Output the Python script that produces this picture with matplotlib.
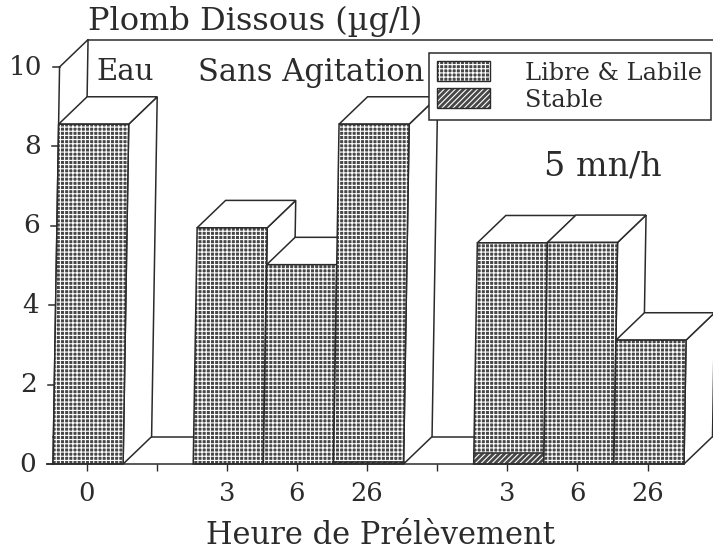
import matplotlib
matplotlib.use('Agg')
import matplotlib.pyplot as plt
from matplotlib.patches import Patch, Polygon
from matplotlib.legend_handler import HandlerTuple
from matplotlib.transforms import Affine2D

hours = ['0', '', '3', '6', '26', '', '3', '6', '26']
stable = [0, 0, 0, 0, 0.06, 0, 0.27, 0, 0]
labile = [8.56, 0, 5.95, 5.02, 8.50, 0, 5.30, 5.58, 3.12]

W, H = 713, 554
INK = '#2b2b2b'
FACE = '#474747'
DX, DY = 0.4, 0.69      # depth of the 3D effect, in data units

plt.rcParams['font.family'] = 'DejaVu Serif'
plt.rcParams['hatch.linewidth'] = 0.8

fig = plt.figure(figsize=(W / 100, H / 100), dpi=100)
ax = fig.add_axes([53 / W, (H - 464) / H, 631 / W, 397 / H])
ax.set_xlim(0, 9)
ax.set_ylim(0, 10)
ax.patch.set_visible(False)
for s in ax.spines.values():
    s.set_visible(False)

# the scan leans a little to the right going up
y0 = H - 464
lean = Affine2D.from_values(1, 0, 0.0165, 1, -0.0165 * y0, 0)
tr = ax.transData + lean


def line(xs, ys, z=1):
    ax.plot(xs, ys, color=INK, lw=1.1, transform=tr, clip_on=False, zorder=z)


def poly(pts, z):
    ax.add_patch(Polygon(pts, closed=True, fc='white', ec=INK, lw=1.1,
                         transform=tr, clip_on=False, zorder=z))


# walls
line([0, DX, DX], [10, 10 + DY, 0 + DY])
line([DX, 9 + DX], [10 + DY, 10 + DY])
line([0, 0], [0, 10])
line([0, DX], [0, DY])
line([0, 9 + DX], [DY, DY])
line([-0.09, 9], [0, 0], z=60)
for v in range(0, 11, 2):
    line([-0.09, 0], [v, v])
    ax.text(-0.24 + 0.0165 * v * 39.7 / 70.1, v, str(v), ha='right', va='center',
            fontsize=19, color=INK)

ax.set_yticks([])
ax.set_xticks([i + 0.48 for i in range(9)])
ax.set_xticklabels(hours, fontsize=18.5, color=INK)
ax.tick_params(axis='x', length=5, width=1, color=INK, pad=7)

# bars, left to right so the later ones cover the earlier ones
for i in range(len(hours)):
    total = stable[i] + labile[i]
    if total == 0:
        continue
    z = 10 + i * 5
    poly([(i + 1, 0), (i + 1 + DX, DY), (i + 1 + DX, total + DY), (i + 1, total)], z)
    poly([(i, total), (i + DX, total + DY), (i + 1 + DX, total + DY), (i + 1, total)], z)
    ax.bar(i + 0.5, labile[i], width=1, bottom=stable[i], color=FACE, edgecolor='white',
           hatch='++++', lw=0, transform=tr, clip_on=False, zorder=z + 1)
    if stable[i] > 0:
        ax.bar(i + 0.5, stable[i], width=1, color=FACE, edgecolor='white',
               hatch='//////', lw=0, transform=tr, clip_on=False, zorder=z + 1)
        line([i, i + 1], [stable[i], stable[i]], z=z + 2)
    ax.bar(i + 0.5, total, width=1, fill=False, edgecolor=INK, lw=1.1,
           transform=tr, clip_on=False, zorder=z + 2)

fig.text(88 / W, 1 - 21 / H, 'Plomb Dissous (µg/l)', fontsize=23, color=INK, va='center')
fig.text(96 / W, 1 - 72 / H, 'Eau', fontsize=21, color=INK, va='center')
fig.text(198 / W, 1 - 72 / H, 'Sans Agitation', fontsize=22, color=INK, va='center')
fig.text(544 / W, 1 - 166 / H, '5 mn/h', fontsize=24, color=INK, va='center')
fig.text(381 / W, 1 - 535 / H, 'Heure de Prélèvement', fontsize=22, color=INK,
         va='center', ha='center')

labile_key = (Patch(fc=FACE, ec='white', hatch='++++', lw=0), Patch(fill=False, ec=INK, lw=1))
stable_key = (Patch(fc=FACE, ec='white', hatch='//////', lw=0), Patch(fill=False, ec=INK, lw=1))
leg = fig.legend([labile_key, stable_key], ['Libre & Labile', 'Stable'],
                 handler_map={tuple: HandlerTuple(ndivide=1, pad=0)},
                 loc='upper left', bbox_to_anchor=(429 / W, 1 - 53 / H),
                 fontsize=17.3, frameon=True, fancybox=False, framealpha=1,
                 edgecolor=INK, handlelength=2.2, handleheight=0.9, handletextpad=1.45,
                 labelspacing=0.15, borderpad=0.35, borderaxespad=0)
leg.get_frame().set_linewidth(1.1)
leg.set_zorder(100)
for t in leg.get_texts():
    t.set_color(INK)

fig.savefig('out.png', dpi=100)
